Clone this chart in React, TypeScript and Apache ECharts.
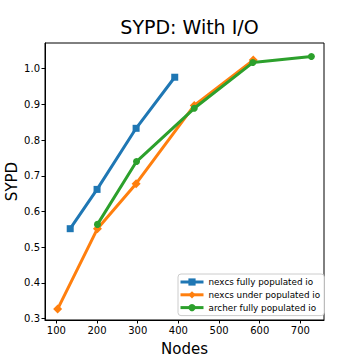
import React, { useEffect, useRef } from "react";
import * as echarts from "echarts";

const seriesNames = ["nexcs fully populated io", "nexcs under populated io", "archer fully populated io"];
const blueNodes = [134, 200, 296, 391];
const blueSypd = [0.552, 0.662, 0.833, 0.976];
const orangeNodes = [103, 201, 296, 439, 584];
const orangeSypd = [0.327, 0.552, 0.678, 0.897, 1.024];
const greenNodes = [201, 297, 439, 583, 727];
const greenSypd = [0.564, 0.740, 0.889, 1.017, 1.034];
const xTicks = [100, 200, 300, 400, 500, 600, 700];
const yTicks = [0.3, 0.4, 0.5, 0.6, 0.7, 0.8, 0.9, 1.0];
const colors = ["#1f77b4", "#ff7f0e", "#2ca02c"];

const zip = (a: number[], b: number[]) => a.map((v, i) => [v, b[i]]);

export default function App() {
  const ref = useRef<HTMLDivElement>(null);
  useEffect(() => {
    const chart = echarts.init(ref.current!, null, { renderer: "svg" });
    const font = "DejaVu Sans";
    const mk = (i: number, x: number[], y: number[], symbol: string, size: number) => ({
      name: seriesNames[i],
      type: "line",
      data: zip(x, y),
      symbol,
      symbolSize: size,
      lineStyle: { width: 3, color: colors[i] },
      itemStyle: { color: colors[i] },
      z: 3 + (i === 2 ? 1 : 0),
    });
    chart.setOption({
      animation: false,
      color: colors,
      textStyle: { fontFamily: font },
      title: {
        text: "SYPD: With I/O",
        left: 184.5,
        textAlign: "center",
        top: 12,
        textStyle: { fontFamily: font, fontSize: 19, fontWeight: "normal", color: "#000" },
      },
      grid: {
        left: 45,
        right: 36,
        top: 43,
        bottom: 40,
        containLabel: false,
        outerBoundsMode: "none",
        show: true,
        borderColor: "#000",
        borderWidth: 1,
        backgroundColor: "transparent",
      },
      legend: {
        orient: "vertical",
        left: 178,
        top: 274,
        itemWidth: 23,
        itemHeight: 9,
        itemGap: 2.8,
        padding: [3, 4, 3, 1],
        backgroundColor: "#fff",
        borderColor: "#ccc",
        borderWidth: 1,
        borderRadius: 3,
        lineStyle: { width: 3 },
        textStyle: { fontFamily: font, fontSize: 8.8, lineHeight: 10, color: "#000" },
        data: seriesNames,
      },
      xAxis: {
        type: "value",
        min: 72,
        max: 758,
        name: "Nodes",
        nameLocation: "middle",
        nameGap: 21,
        nameMoveOverlap: false,
        nameTextStyle: { fontFamily: font, fontSize: 15, color: "#000" },
        splitLine: { show: false },
        axisLine: { show: true, lineStyle: { color: "#000" } },
        axisTick: { show: true, length: 3.5, lineStyle: { color: "#000" }, customValues: xTicks },
        axisLabel: {
          fontFamily: font,
          fontSize: 10,
          color: "#000",
          margin: 5,
          customValues: xTicks,
        },
      },
      yAxis: {
        type: "value",
        min: 0.2964,
        max: 1.0718,
        name: "SYPD",
        nameLocation: "middle",
        nameGap: 26,
        nameMoveOverlap: false,
        nameTextStyle: { fontFamily: font, fontSize: 15, color: "#000" },
        splitLine: { show: false },
        axisLine: { show: true, lineStyle: { color: "#000" } },
        axisTick: { show: true, length: 3.5, lineStyle: { color: "#000" }, customValues: yTicks },
        axisLabel: {
          fontFamily: font,
          fontSize: 10,
          color: "#000",
          margin: 5,
          customValues: yTicks,
          formatter: (v: number) => v.toFixed(1),
        },
      },
      series: [
        mk(0, blueNodes, blueSypd, "rect", 7),
        mk(1, orangeNodes, orangeSypd, "diamond", 9),
        mk(2, greenNodes, greenSypd, "circle", 7),
      ],
    });
    return () => chart.dispose();
  }, []);
  return <div ref={ref} style={{ width: 360, height: 360, position: "absolute", left: 0, top: 0 }} />;
}
